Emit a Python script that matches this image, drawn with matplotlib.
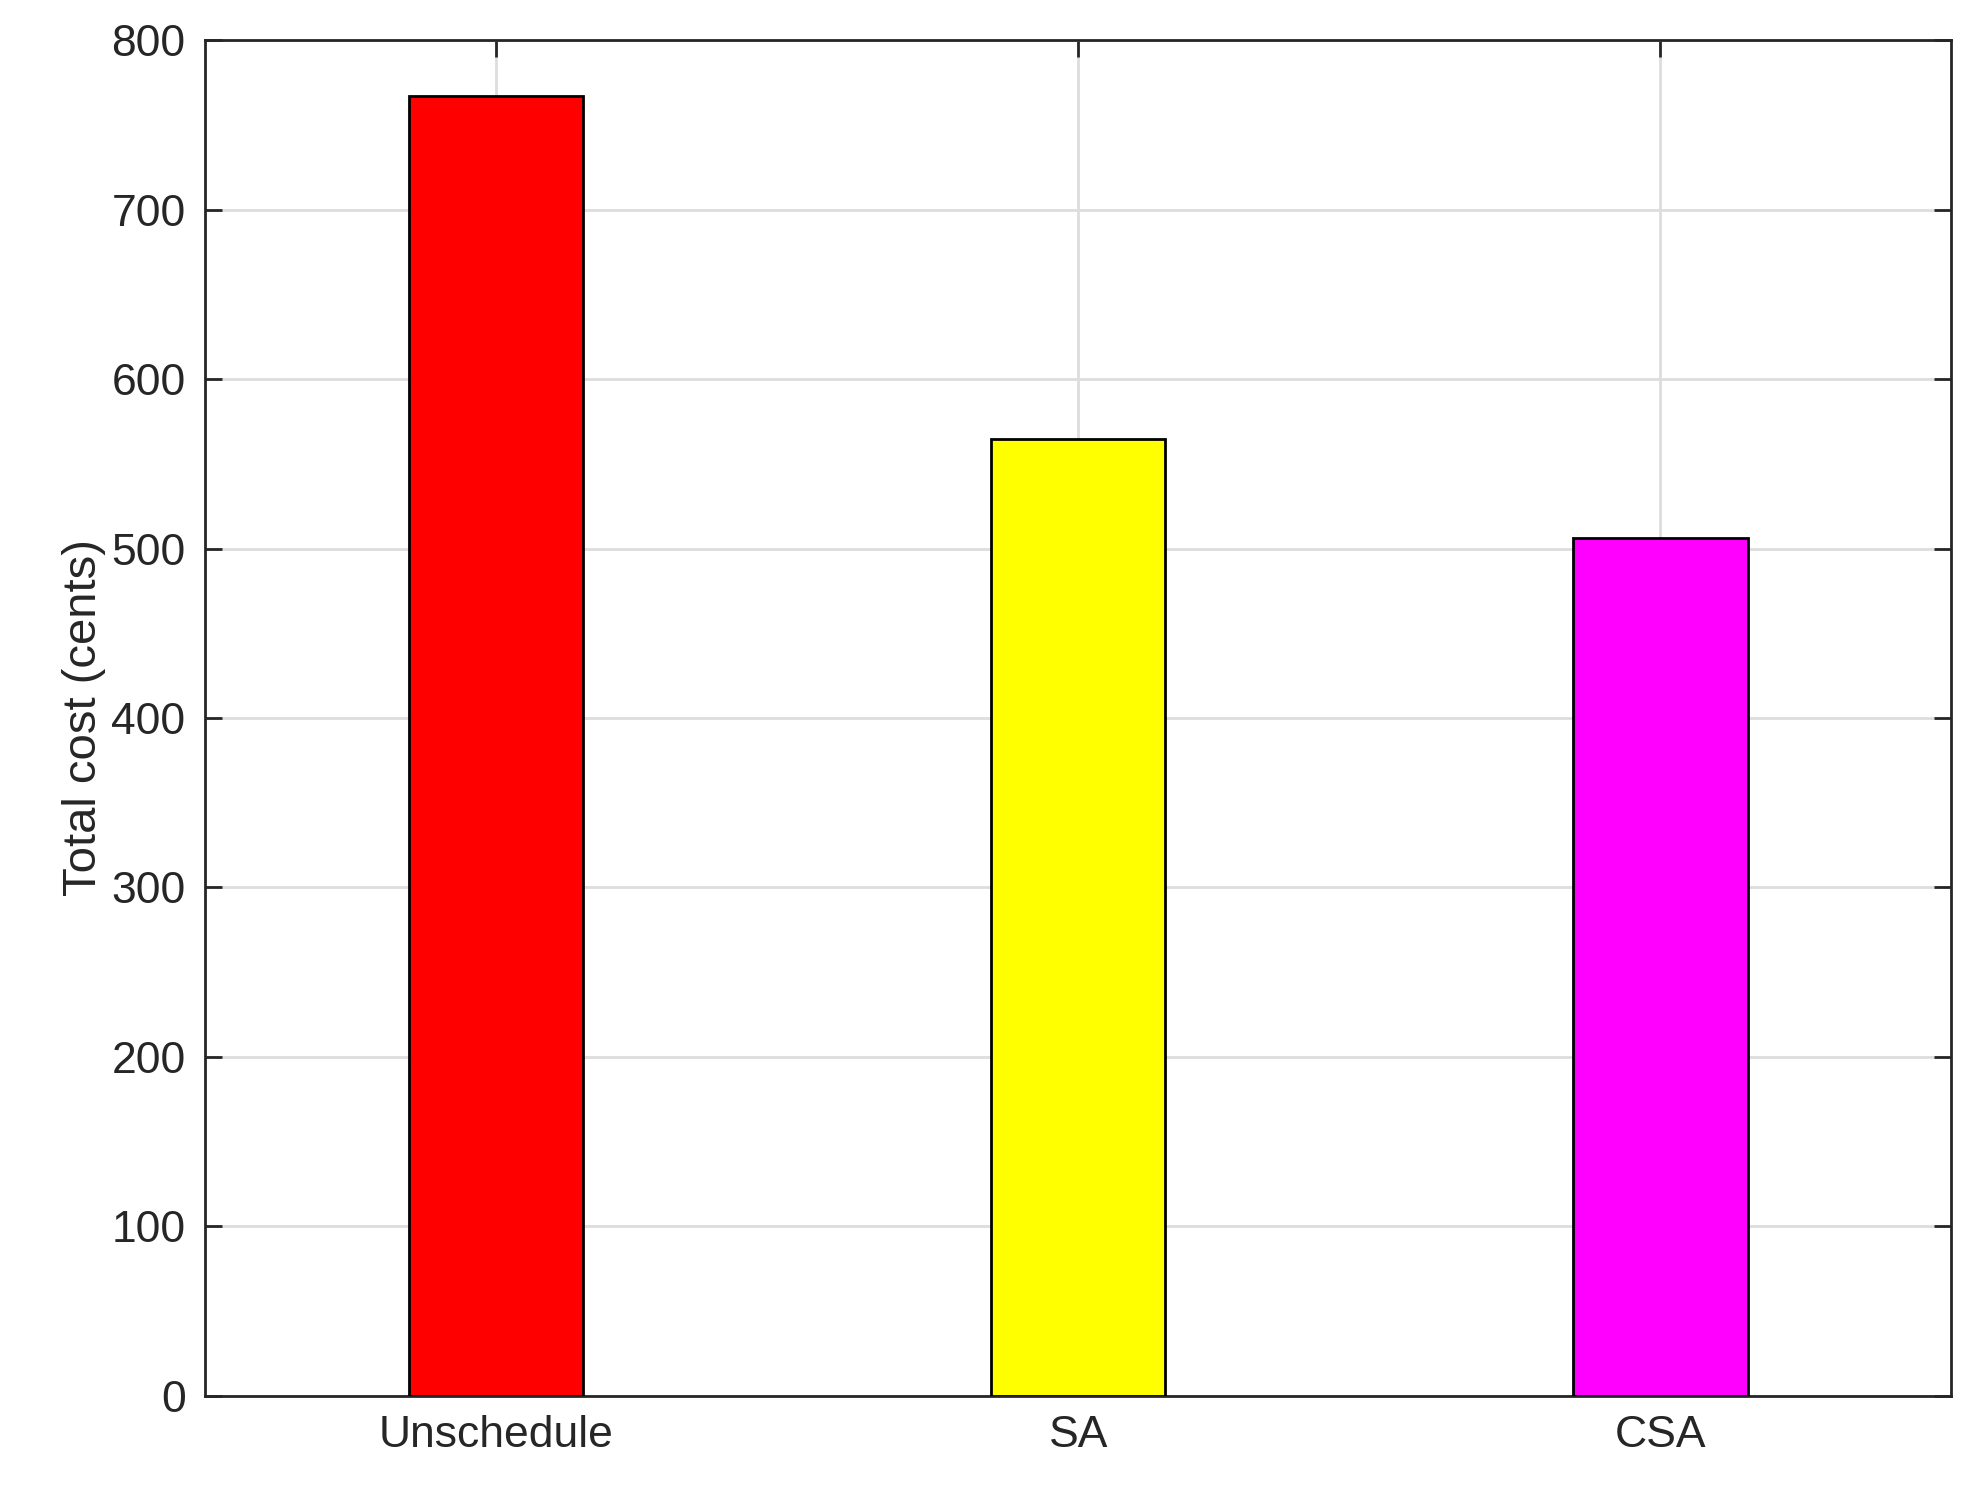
import matplotlib.pyplot as plt

categories = ["Unschedule", "SA", "CSA"]
costs = [767, 564.5, 506]
colors = ["#ff0000", "#ffff00", "#ff00ff"]

plt.rcParams['font.family'] = ['Arial', 'Liberation Sans', 'DejaVu Sans']

fig = plt.figure(figsize=(19.71, 14.91), dpi=100)
ax = fig.add_axes([0.104, 0.064, 0.886, 0.909])

x = range(1, len(categories) + 1)
ax.bar(x, costs, width=0.3, color=colors, edgecolor="black", linewidth=2, zorder=3)

ax.set_xlim(0.5, 3.5)
ax.set_ylim(0, 800)
ax.set_xticks(list(x))
ax.set_xticklabels(categories)
ax.set_yticks(range(0, 801, 100))
ax.set_ylabel("Total cost (cents)", fontsize=34, color="#262626")
ax.grid(True, color="#dddddd", linewidth=2, zorder=0)
ax.tick_params(direction="in", length=12, width=2, labelsize=32, colors="#262626",
               top=True, right=True, pad=14)
for s in ax.spines.values():
    s.set_linewidth(2)
    s.set_color("#262626")

fig.savefig("out.png", dpi=100)
